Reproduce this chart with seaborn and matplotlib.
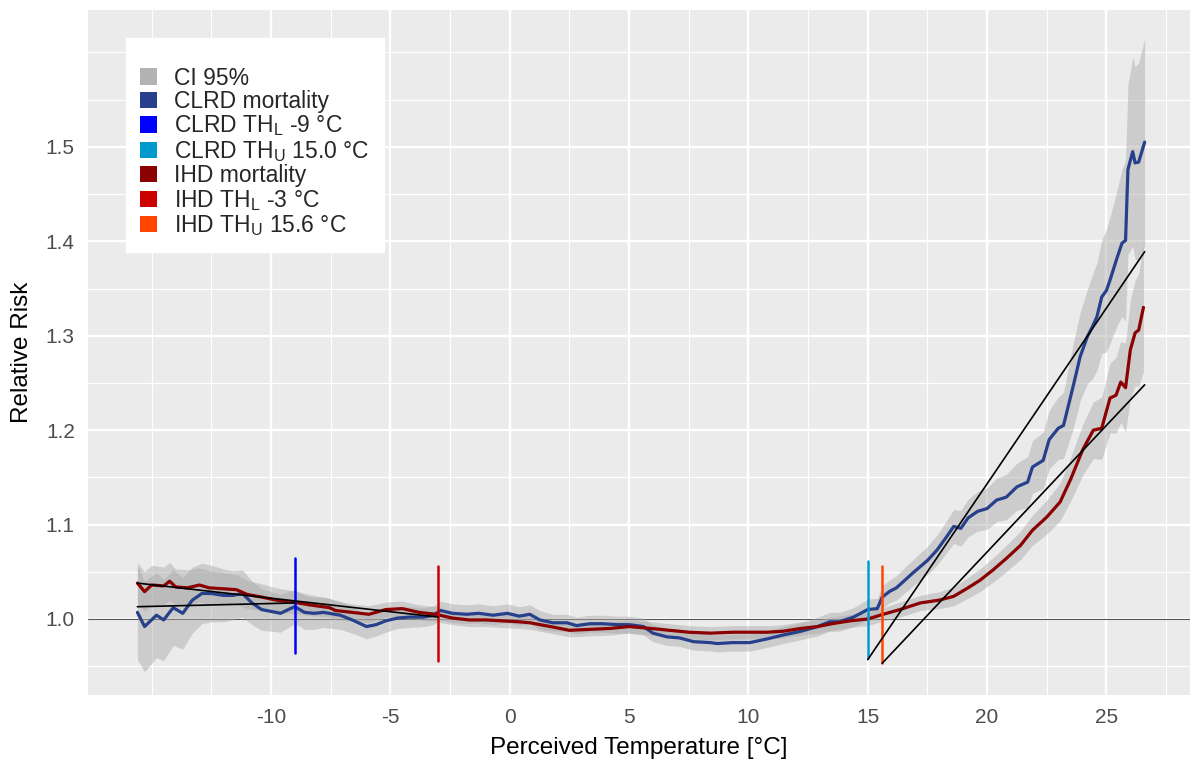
import matplotlib
matplotlib.use("Agg")
import numpy as np
import pandas as pd
import matplotlib.pyplot as plt
import seaborn as sns
from matplotlib.patches import Patch
from matplotlib.ticker import FixedLocator

# ---------------- data ----------------
clrd_temp = [-15.6, -15.3, -14.8, -14.5, -14.1, -13.7, -13.3, -12.9, -12.5, -12.0,
             -11.6, -11.2, -10.8, -10.4, -10.0, -9.6, -9.2, -9.0, -8.6, -8.2,
             -7.8, -7.1, -6.6, -6.0, -5.6, -5.2, -4.7, -4.2, -3.6, -3.2,
             -2.9, -2.4, -1.8, -1.3, -0.7, -0.1, 0.4, 0.84, 1.26, 1.8,
             2.4, 2.8, 3.35, 3.9, 4.5, 5.0, 5.6, 6.0, 6.6, 7.1,
             7.7, 8.4, 8.7, 9.35, 10.06, 10.8, 11.45, 12.2, 12.9, 13.4,
             13.8, 14.4, 15.0, 15.4, 15.6, 15.9, 16.2, 16.9, 17.5, 17.9,
             18.3, 18.6, 18.9, 19.2, 19.6, 20.0, 20.4, 20.8, 21.25, 21.7,
             21.9, 22.35, 22.6, 22.98, 23.2, 23.6, 23.9, 24.2, 24.4, 24.6,
             24.8, 25.0, 25.15, 25.45, 25.65, 25.8, 25.9, 26.1, 26.2, 26.35,
             26.6]
clrd_rr = [1.007, 0.992, 1.004, 0.999, 1.012, 1.006, 1.020, 1.027, 1.027, 1.025,
           1.025, 1.027, 1.017, 1.010, 1.008, 1.006, 1.011, 1.013, 1.007, 1.006,
           1.007, 1.004, 0.999, 0.992, 0.994, 0.998, 1.001, 1.002, 1.002, 1.004,
           1.009, 1.006, 1.005, 1.006, 1.004, 1.006, 1.003, 1.005, 0.999, 0.996,
           0.996, 0.993, 0.995, 0.995, 0.994, 0.994, 0.992, 0.985, 0.981, 0.980,
           0.976, 0.975, 0.974, 0.975, 0.975, 0.979, 0.983, 0.987, 0.992, 0.997,
           0.997, 1.002, 1.010, 1.011, 1.023, 1.029, 1.033, 1.049, 1.062, 1.073,
           1.087, 1.098, 1.096, 1.107, 1.114, 1.117, 1.126, 1.129, 1.140, 1.145,
           1.161, 1.168, 1.190, 1.202, 1.205, 1.246, 1.278, 1.299, 1.309, 1.320,
           1.341, 1.348, 1.359, 1.383, 1.398, 1.401, 1.476, 1.495, 1.483, 1.484,
           1.505]
clrd_ci = [0.050, 0.048, 0.045, 0.043, 0.040, 0.038, 0.035, 0.032, 0.030, 0.028,
           0.026, 0.025, 0.023, 0.022, 0.021, 0.020, 0.019, 0.018, 0.018, 0.017,
           0.016, 0.015, 0.014, 0.013, 0.012, 0.012, 0.011, 0.011, 0.010, 0.010,
           0.010, 0.010, 0.010, 0.010, 0.010, 0.010, 0.010, 0.010, 0.010, 0.009,
           0.009, 0.009, 0.009, 0.009, 0.009, 0.009, 0.009, 0.009, 0.009, 0.009,
           0.009, 0.009, 0.009, 0.009, 0.009, 0.009, 0.009, 0.009, 0.010, 0.010,
           0.010, 0.010, 0.011, 0.011, 0.012, 0.012, 0.013, 0.014, 0.015, 0.016,
           0.017, 0.018, 0.019, 0.020, 0.021, 0.022, 0.023, 0.024, 0.025, 0.027,
           0.028, 0.030, 0.031, 0.033, 0.035, 0.045, 0.047, 0.050, 0.055, 0.057,
           0.060, 0.065, 0.067, 0.072, 0.078, 0.085, 0.090, 0.100, 0.102, 0.105,
           0.110]

ihd_temp = [-15.6, -15.3, -15.0, -14.5, -14.25, -14.0, -13.5, -13.0, -12.6, -12.0,
            -11.45, -11.0, -10.35, -9.8, -9.1, -8.4, -7.55, -7.3, -6.6, -5.9,
            -5.2, -4.5, -3.8, -3.1, -2.4, -1.7, -1.0, -0.3, 0.4, 0.84,
            1.7, 2.5, 3.35, 4.2, 5.0, 5.9, 6.7, 7.5, 8.4, 9.35,
            10.8, 11.45, 12.2, 12.9, 13.5, 14.25, 15.0, 15.65, 16.35, 17.2,
            18.0, 18.6, 19.2, 19.7, 20.25, 20.8, 21.4, 21.9, 22.5, 23.06,
            23.5, 24.0, 24.45, 24.8, 25.15, 25.4, 25.6, 25.8, 26.0, 26.2,
            26.35, 26.55]
ihd_rr = [1.038, 1.029, 1.036, 1.035, 1.040, 1.034, 1.033, 1.036, 1.033, 1.032,
          1.031, 1.026, 1.023, 1.020, 1.018, 1.015, 1.012, 1.009, 1.007, 1.005,
          1.010, 1.011, 1.007, 1.005, 1.001, 0.999, 0.999, 0.998, 0.997, 0.996,
          0.992, 0.988, 0.989, 0.990, 0.992, 0.990, 0.988, 0.986, 0.985, 0.986,
          0.986, 0.987, 0.990, 0.992, 0.995, 0.998, 1.000, 1.005, 1.010, 1.017,
          1.020, 1.024, 1.033, 1.041, 1.052, 1.064, 1.078, 1.094, 1.108, 1.124,
          1.148, 1.179, 1.200, 1.202, 1.234, 1.237, 1.251, 1.245, 1.285, 1.303,
          1.306, 1.330]
ihd_ci = [0.022, 0.021, 0.021, 0.020, 0.020, 0.019, 0.019, 0.018, 0.018, 0.017,
          0.016, 0.015, 0.014, 0.013, 0.012, 0.011, 0.010, 0.010, 0.009, 0.009,
          0.008, 0.008, 0.008, 0.008, 0.007, 0.007, 0.007, 0.007, 0.007, 0.007,
          0.007, 0.007, 0.007, 0.007, 0.007, 0.007, 0.007, 0.007, 0.007, 0.007,
          0.007, 0.007, 0.007, 0.007, 0.007, 0.007, 0.007, 0.007, 0.008, 0.008,
          0.009, 0.010, 0.011, 0.012, 0.013, 0.014, 0.015, 0.016, 0.018, 0.020,
          0.023, 0.027, 0.030, 0.033, 0.037, 0.040, 0.043, 0.047, 0.052, 0.056,
          0.060, 0.068]

# thresholds: name, temperature, vertical extent
th_labels = ["CLRD TH$_\\mathregular{L}$ -9 °C", "CLRD TH$_\\mathregular{U}$ 15.0 °C",
             "IHD TH$_\\mathregular{L}$ -3 °C", "IHD TH$_\\mathregular{U}$ 15.6 °C"]
th_temp = [-9.0, 15.0, -3.0, 15.6]
th_ymin = [0.964, 0.959, 0.955, 0.953]
th_ymax = [1.065, 1.061, 1.056, 1.056]
th_colors = ["#0000FF", "#009ACD", "#CD0000", "#FF4500"]

# linear fits (segment end points)
fit_x = [[-15.6, -9.0], [-15.6, -3.0], [15.0, 26.6], [15.6, 26.6]]
fit_y = [[1.013, 1.017], [1.038, 1.002], [0.957, 1.389], [0.953, 1.248]]

x_breaks = [-10, -5, 0, 5, 10, 15, 20, 25]
y_breaks = [1.0, 1.1, 1.2, 1.3, 1.4, 1.5]
x_minor = [-15, -12.5, -7.5, -2.5, 2.5, 7.5, 12.5, 17.5, 22.5, 27.5]
y_minor = [0.95, 1.05, 1.15, 1.25, 1.35, 1.45, 1.55, 1.6]

col_clrd = "#27408B"
col_ihd = "#8B0000"
col_ci = "#B3B3B3"

# ---------------- style ----------------
sns.set_theme(style="darkgrid")
plt.rcParams.update({
    "font.family": ["Liberation Sans", "DejaVu Sans"],
    "mathtext.fontset": "custom",
    "mathtext.rm": "Liberation Sans",
    "mathtext.it": "Liberation Sans:italic",
    "axes.facecolor": "#EBEBEB",
    "axes.edgecolor": "#EBEBEB",
    "grid.color": "white",
})

fig = plt.figure(figsize=(11.92, 7.62), dpi=100)
ax = fig.add_axes([88 / 1192, 1 - 695 / 762, (1190 - 88) / 1192, (695 - 10) / 762])
ax.set_xlim(-17.67, 28.5)
ax.set_ylim(0.9195, 1.645)

ax.xaxis.set_major_locator(FixedLocator(x_breaks))
ax.yaxis.set_major_locator(FixedLocator(y_breaks))
ax.xaxis.set_minor_locator(FixedLocator(x_minor))
ax.yaxis.set_minor_locator(FixedLocator(y_minor))
ax.grid(which="major", color="white", linewidth=1.7)
ax.grid(which="minor", color="white", linewidth=0.85)
ax.tick_params(which="minor", length=0)
ax.tick_params(which="major", length=4.5, width=1.3, color="#333333",
               labelsize=15, labelcolor="#4D4D4D", pad=5)
ax.set_xticklabels([str(v) for v in x_breaks])
ax.set_yticklabels([f"{v:.1f}" for v in y_breaks])
for s in ax.spines.values():
    s.set_visible(False)

ax.axhline(1.0, color="#555555", linewidth=0.8, zorder=2)

# CI ribbons
clrd = pd.DataFrame({"temp": clrd_temp, "rr": clrd_rr, "ci": clrd_ci})
ihd = pd.DataFrame({"temp": ihd_temp, "rr": ihd_rr, "ci": ihd_ci})
for d in (clrd, ihd):
    ax.fill_between(d["temp"], d["rr"] - d["ci"], d["rr"] + d["ci"],
                    color="#A8A8A8", alpha=0.45, linewidth=0, zorder=3)

sns.lineplot(data=clrd, x="temp", y="rr", color=col_clrd, linewidth=2.3, ax=ax,
             zorder=5, sort=False)
sns.lineplot(data=ihd, x="temp", y="rr", color=col_ihd, linewidth=2.3, ax=ax,
             zorder=5, sort=False)

for t, lo, hi, c in zip(th_temp, th_ymin, th_ymax, th_colors):
    ax.plot([t, t], [lo, hi], color=c, linewidth=1.8, zorder=6)

for fx, fy in zip(fit_x, fit_y):
    ax.plot(fx, fy, color="black", linewidth=1.2, zorder=7)

ax.set_xlabel("Perceived Temperature [°C]", fontsize=17.5, color="black", labelpad=7)
ax.set_ylabel("Relative Risk", fontsize=17.5, color="black", labelpad=9)

handles = [Patch(facecolor=col_ci, edgecolor="none", label="CI 95%"),
           Patch(facecolor=col_clrd, edgecolor="none", label="CLRD mortality"),
           Patch(facecolor=th_colors[0], edgecolor="none", label=th_labels[0]),
           Patch(facecolor=th_colors[1], edgecolor="none", label=th_labels[1]),
           Patch(facecolor=col_ihd, edgecolor="none", label="IHD mortality"),
           Patch(facecolor=th_colors[2], edgecolor="none", label=th_labels[2]),
           Patch(facecolor=th_colors[3], edgecolor="none", label=th_labels[3])]
leg = ax.legend(handles=handles, loc="upper left",
                bbox_to_anchor=((126 - 88) / 1102, (695 - 38) / 685),
                frameon=True, fancybox=False, framealpha=1, facecolor="white",
                edgecolor="white", fontsize=16.5, title=" ", title_fontsize=10,
                handlelength=0.72, handleheight=0.72,
                handletextpad=0.75, labelspacing=0.02, borderpad=0.62, borderaxespad=0)
leg.set_zorder(10)

fig.savefig("out.png", dpi=100)
